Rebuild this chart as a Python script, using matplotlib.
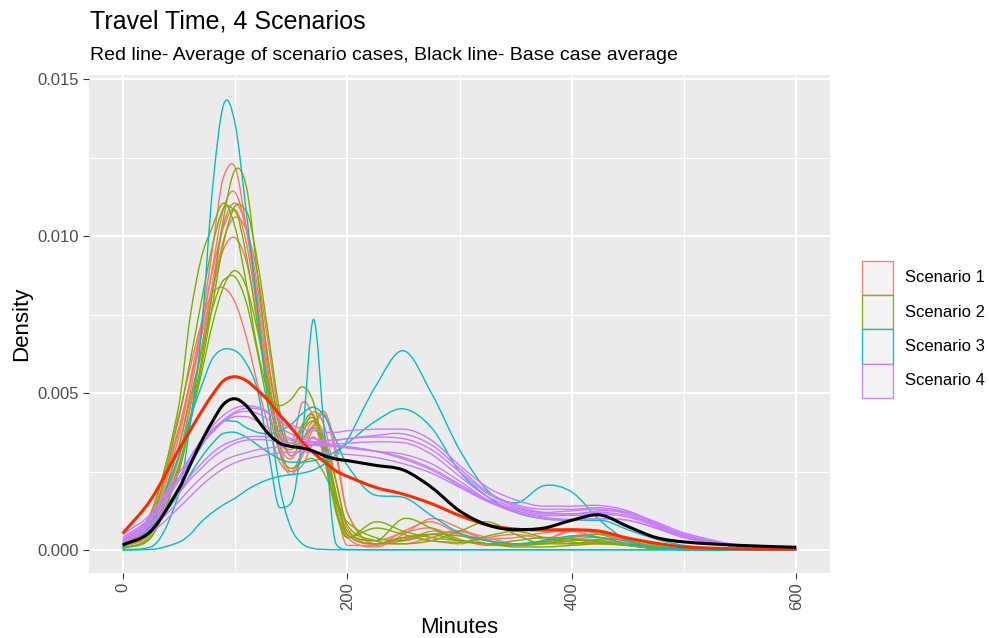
import matplotlib
matplotlib.use("Agg")
import matplotlib.pyplot as plt
from matplotlib.path import Path
from matplotlib.patches import PathPatch, Rectangle
import numpy as np

plt.rcParams['font.family'] = ['Liberation Sans', 'DejaVu Sans']

# Evaluation grid (minutes) shared by every density curve
minutes = [0, 25, 50, 60, 70, 80, 90, 100, 110, 120, 130, 140, 150, 160, 170, 180,
           190, 200, 225, 250, 275, 300, 325, 350, 375, 400, 425, 450, 475, 500, 550, 600]

# Densities are stored x 1000 (one list per run, values at `minutes`)
scenario_1 = [
    [0.1, 0.8, 3.6, 5.3, 7.2, 9.6, 11.9, 12.2, 10.3, 7.8, 5.4, 3.6, 3.4, 4.7, 4.2, 2.8, 1.3, 0.5, 0.3, 0.55, 0.7, 0.35, 0.15, 0.15, 0.25, 0.35, 0.3, 0.15, 0.05, 0.02, 0.0, 0.0],
    [0.1, 0.7, 3.3, 5.0, 6.9, 9.0, 10.9, 11.4, 10.2, 8.1, 5.6, 3.4, 2.9, 3.7, 4.4, 3.9, 2.2, 0.7, 0.2, 0.35, 0.5, 0.6, 0.4, 0.2, 0.25, 0.45, 0.5, 0.3, 0.1, 0.03, 0.0, 0.0],
    [0.1, 0.6, 3.0, 4.6, 6.4, 8.5, 10.4, 11.05, 10.3, 8.4, 6.0, 3.8, 3.0, 3.5, 4.1, 3.6, 1.8, 0.4, 0.1, 0.5, 1.0, 0.7, 0.3, 0.15, 0.3, 0.6, 0.55, 0.3, 0.1, 0.03, 0.0, 0.0],
    [0.15, 0.9, 3.8, 5.4, 7.1, 8.9, 10.3, 10.85, 9.8, 7.6, 5.1, 3.1, 2.4, 3.0, 3.9, 4.3, 3.0, 1.2, 0.2, 0.3, 0.6, 0.5, 0.35, 0.4, 0.55, 0.6, 0.4, 0.2, 0.08, 0.02, 0.0, 0.0],
    [0.2, 1.0, 3.9, 5.3, 6.8, 8.3, 9.6, 9.95, 9.2, 7.4, 5.2, 3.3, 2.5, 2.7, 3.4, 3.3, 1.4, 0.15, 0.15, 0.6, 0.9, 0.5, 0.2, 0.15, 0.3, 0.65, 0.5, 0.25, 0.08, 0.02, 0.0, 0.0],
    [0.2, 1.2, 4.3, 5.8, 7.2, 8.2, 8.35, 7.9, 6.8, 5.3, 3.9, 2.8, 2.5, 3.1, 3.6, 3.0, 1.6, 0.5, 0.2, 0.4, 0.3, 0.2, 0.4, 0.5, 0.35, 0.2, 0.25, 0.2, 0.08, 0.02, 0.0, 0.0],
    [0.1, 0.6, 2.9, 4.5, 6.3, 8.2, 9.9, 10.6, 10.2, 8.8, 6.5, 4.1, 3.0, 3.3, 4.0, 4.4, 3.2, 1.2, 0.2, 0.2, 0.4, 0.6, 0.3, 0.15, 0.2, 0.35, 0.4, 0.3, 0.12, 0.04, 0.0, 0.0],
]

scenario_2 = [
    [0.05, 0.4, 2.6, 4.2, 6.0, 8.2, 10.6, 12.1, 11.6, 8.8, 5.9, 4.0, 3.3, 3.5, 3.9, 3.2, 1.6, 0.5, 0.2, 0.4, 0.5, 0.3, 0.2, 0.3, 0.4, 0.35, 0.25, 0.15, 0.05, 0.02, 0.0, 0.0],
    [0.1, 1.1, 4.6, 7.4, 9.3, 10.3, 11.05, 10.3, 8.5, 6.4, 5.0, 4.6, 4.8, 5.2, 4.7, 3.0, 1.2, 0.4, 0.9, 0.6, 0.4, 0.3, 0.2, 0.1, 0.1, 0.15, 0.2, 0.15, 0.05, 0.02, 0.0, 0.0],
    [0.1, 0.9, 4.2, 6.0, 7.9, 9.7, 10.9, 10.8, 9.4, 7.2, 4.9, 3.4, 3.2, 3.9, 4.2, 3.3, 1.8, 0.6, 0.3, 1.0, 0.7, 0.3, 0.2, 0.15, 0.2, 0.3, 0.3, 0.15, 0.05, 0.02, 0.0, 0.0],
    [0.05, 0.4, 2.5, 4.0, 5.8, 7.8, 9.8, 10.95, 10.8, 9.2, 6.8, 4.4, 3.3, 3.8, 4.1, 3.5, 2.2, 0.8, 0.3, 0.2, 0.3, 0.6, 0.9, 0.5, 0.2, 0.2, 0.35, 0.3, 0.1, 0.03, 0.0, 0.0],
    [0.05, 0.5, 2.7, 4.1, 5.6, 7.2, 8.4, 8.9, 8.4, 7.0, 5.2, 3.6, 3.3, 4.0, 4.3, 3.0, 1.3, 0.4, 0.7, 0.5, 0.3, 0.25, 0.45, 0.6, 0.4, 0.25, 0.2, 0.15, 0.05, 0.02, 0.0, 0.0],
    [0.1, 0.7, 3.3, 4.8, 6.3, 7.7, 8.6, 8.7, 7.9, 6.3, 4.5, 3.1, 2.6, 2.8, 2.9, 2.4, 1.6, 0.9, 0.4, 0.3, 0.5, 0.45, 0.3, 0.2, 0.25, 0.4, 0.5, 0.4, 0.15, 0.04, 0.0, 0.0],
]

scenario_3 = [
    [0.0, 0.1, 1.8, 4.0, 6.9, 11.5, 14.2, 13.6, 10.8, 7.7, 4.5, 2.0, 0.7, 0.2, 0.05, 0.02, 0.01, 0.01, 0.01, 0.01, 0.01, 0.01, 0.01, 0.01, 0.01, 0.01, 0.01, 0.01, 0.01, 0.01, 0.01, 0.01],
    [0.1, 0.8, 3.0, 4.2, 5.2, 6.1, 6.4, 6.35, 5.95, 5.1, 3.1, 1.35, 1.5, 3.6, 7.35, 3.6, 0.2, 0.02, 0.01, 0.01, 0.01, 0.01, 0.01, 0.01, 0.01, 0.01, 0.01, 0.01, 0.01, 0.01, 0.01, 0.01],
    [0.0, 0.02, 0.25, 0.5, 0.9, 1.2, 1.45, 1.65, 1.9, 2.1, 2.25, 2.35, 2.4, 2.45, 2.55, 2.75, 3.05, 3.5, 5.2, 6.35, 5.0, 3.2, 1.9, 1.5, 2.05, 1.85, 0.95, 0.3, 0.08, 0.02, 0.0, 0.0],
    [0.1, 0.6, 1.8, 2.4, 2.95, 3.4, 3.72, 3.75, 3.6, 3.35, 3.1, 2.9, 2.8, 2.8, 2.85, 2.95, 3.15, 3.4, 4.1, 4.5, 3.9, 2.5, 1.7, 1.2, 1.0, 0.95, 0.95, 0.65, 0.35, 0.15, 0.03, 0.01],
    [0.1, 0.7, 2.0, 2.7, 3.3, 3.8, 4.1, 4.1, 3.9, 3.75, 3.7, 3.8, 4.0, 4.35, 4.55, 4.25, 3.5, 2.7, 1.75, 1.68, 1.1, 0.55, 0.3, 0.2, 0.3, 0.45, 0.4, 0.2, 0.08, 0.03, 0.01, 0.0],
]

scenario_4 = [
    [0.35, 1.0, 2.3, 2.95, 3.5, 3.95, 4.3, 4.52, 4.6, 4.55, 4.4, 4.2, 4.0, 3.85, 3.8, 3.75, 3.75, 3.8, 3.85, 3.85, 3.5, 2.7, 2.0, 1.6, 1.4, 1.4, 1.42, 1.25, 0.85, 0.5, 0.1, 0.02],
    [0.3, 0.95, 2.2, 2.8, 3.35, 3.8, 4.15, 4.4, 4.52, 4.5, 4.35, 4.1, 3.85, 3.65, 3.55, 3.5, 3.5, 3.55, 3.65, 3.7, 3.35, 2.6, 1.85, 1.45, 1.3, 1.3, 1.35, 1.2, 0.85, 0.5, 0.12, 0.02],
    [0.4, 1.05, 2.3, 2.85, 3.35, 3.75, 4.1, 4.35, 4.42, 4.35, 4.15, 3.9, 3.7, 3.55, 3.45, 3.4, 3.38, 3.4, 3.45, 3.42, 3.05, 2.35, 1.7, 1.35, 1.2, 1.25, 1.3, 1.15, 0.8, 0.45, 0.1, 0.02],
    [0.5, 1.15, 2.45, 2.95, 3.45, 3.85, 4.1, 4.25, 4.25, 4.1, 3.9, 3.7, 3.55, 3.45, 3.4, 3.35, 3.3, 3.25, 3.15, 3.05, 2.75, 2.2, 1.6, 1.25, 1.1, 1.1, 1.15, 1.05, 0.75, 0.4, 0.1, 0.02],
    [0.3, 0.85, 1.9, 2.35, 2.75, 3.1, 3.35, 3.5, 3.6, 3.62, 3.6, 3.55, 3.5, 3.45, 3.45, 3.48, 3.5, 3.55, 3.6, 3.55, 3.2, 2.5, 1.8, 1.4, 1.2, 1.15, 1.2, 1.1, 0.8, 0.45, 0.1, 0.02],
    [0.25, 0.8, 1.8, 2.25, 2.6, 2.95, 3.2, 3.4, 3.5, 3.52, 3.5, 3.45, 3.4, 3.38, 3.36, 3.35, 3.33, 3.3, 3.15, 2.9, 2.55, 2.05, 1.55, 1.2, 1.0, 0.95, 1.0, 0.95, 0.7, 0.4, 0.1, 0.02],
    [0.25, 0.7, 1.55, 1.95, 2.3, 2.6, 2.85, 3.0, 3.1, 3.2, 3.25, 3.3, 3.32, 3.33, 3.33, 3.32, 3.3, 3.28, 3.15, 2.95, 2.6, 2.1, 1.6, 1.3, 1.15, 1.15, 1.25, 1.2, 0.9, 0.55, 0.15, 0.03],
    [0.2, 0.55, 1.35, 1.7, 2.05, 2.35, 2.6, 2.78, 2.9, 2.98, 3.05, 3.1, 3.12, 3.12, 3.12, 3.1, 3.08, 3.05, 2.95, 2.75, 2.45, 2.0, 1.55, 1.25, 1.05, 0.98, 1.0, 0.95, 0.7, 0.4, 0.1, 0.02],
]

# Average of all scenario runs (red) and base-case average (black)
scenario_average = [0.53, 1.6, 3.2, 3.8, 4.4, 4.95, 5.4, 5.52, 5.4, 5.1, 4.75, 4.3, 3.9, 3.45, 3.1, 2.8, 2.52, 2.35,
                    2.0, 1.78, 1.48, 1.1, 0.8, 0.67, 0.64, 0.65, 0.6, 0.38, 0.22, 0.1, 0.04, 0.03]
base_average = [0.16, 0.6, 1.95, 2.7, 3.45, 4.1, 4.65, 4.82, 4.6, 4.15, 3.7, 3.4, 3.3, 3.25, 3.15, 3.0, 2.9, 2.85,
                2.7, 2.55, 2.0, 1.25, 0.8, 0.65, 0.7, 0.95, 1.12, 0.75, 0.4, 0.26, 0.15, 0.09]

scenario_names = ["Scenario 1", "Scenario 2", "Scenario 3", "Scenario 4"]
scenario_colors = ["#F8766D", "#7CAE00", "#00BFC4", "#C77CFF"]
DENSITY_SCALE = 1e-3


def smooth_path(xs, ys):
    """Piecewise cubic (Hermite -> Bezier) path through the given points."""
    xs = np.asarray(xs, float)
    ys = np.asarray(ys, float)
    n = len(xs)
    d = np.diff(ys) / np.diff(xs)
    m = np.empty(n)
    m[0], m[-1] = d[0], d[-1]
    for i in range(1, n - 1):
        dl, dr = d[i - 1], d[i]
        central = (ys[i + 1] - ys[i - 1]) / (xs[i + 1] - xs[i - 1])
        if dl * dr > 0:
            lim = 3 * min(abs(dl), abs(dr))
            m[i] = np.sign(central) * min(abs(central), lim)
        elif dl > 0 and dr <= 0:
            m[i] = central      # local maximum: keep rounded crest
        else:
            m[i] = 0.0          # local minimum / flat: no undershoot
    verts = [(xs[0], ys[0])]
    codes = [Path.MOVETO]
    for i in range(n - 1):
        h = xs[i + 1] - xs[i]
        verts += [(xs[i] + h / 3, ys[i] + m[i] * h / 3),
                  (xs[i + 1] - h / 3, ys[i + 1] - m[i + 1] * h / 3),
                  (xs[i + 1], ys[i + 1])]
        codes += [Path.CURVE4] * 3
    return Path(verts, codes)


def draw_curve(ax, values, color, lw, z):
    ys = np.asarray(values, float) * DENSITY_SCALE
    patch = PathPatch(smooth_path(minutes, ys), facecolor='none', edgecolor=color,
                      lw=lw, zorder=z, capstyle='butt', joinstyle='round')
    ax.add_patch(patch)


fig = plt.figure(figsize=(9.89, 6.38), dpi=100)
W, H = 989, 638
ax = fig.add_axes([89 / W, 1 - 572.7 / H, (830 - 89) / W, (572.7 - 75) / H])
ax.set_facecolor('#EBEBEB')

for runs, color in zip([scenario_1, scenario_2, scenario_3, scenario_4], scenario_colors):
    for run in runs:
        draw_curve(ax, run, color, 1.0, 3)
draw_curve(ax, scenario_average, '#FF2A00', 2.2, 5)
draw_curve(ax, base_average, 'black', 2.2, 6)

ax.set_xlim(-30, 630)
ax.set_ylim(-0.00072, 0.01513)
ax.set_xticks([0, 200, 400, 600])
ax.set_xticks([100, 300, 500], minor=True)
ax.set_yticks([0, 0.005, 0.010, 0.015])
ax.set_yticks([0.0025, 0.0075, 0.0125], minor=True)
ax.set_xticklabels(['0', '200', '400', '600'], rotation=90)
ax.set_yticklabels(['0.000', '0.005', '0.010', '0.015'])
ax.grid(which='major', color='white', lw=1.5, zorder=1)
ax.grid(which='minor', color='white', lw=0.75, zorder=1)
ax.set_axisbelow(True)
for s in ax.spines.values():
    s.set_visible(False)
ax.tick_params(which='major', length=4, width=0.8, color='#333333',
               labelsize=12, labelcolor='#4D4D4D', pad=3)
ax.tick_params(which='minor', length=0)

fig.text((89 + 830) / 2 / W, 1 - 633 / H, 'Minutes', ha='center', va='baseline', fontsize=16)
fig.text(22 / W, 1 - 323.5 / H, 'Density', ha='center', va='center', rotation=90, fontsize=16)
fig.text(90 / W, 1 - 28 / H, 'Travel Time, 4 Scenarios', ha='left', va='baseline', fontsize=18)
fig.text(90 / W, 1 - 60 / H,
         'Red line- Average of scenario cases, Black line- Base case average',
         ha='left', va='baseline', fontsize=14)

# Legend keys
key_left, key_w, key_top, key_h = 861.7, 31.6, 260.7, 34.3
for i, (name, color) in enumerate(zip(scenario_names, scenario_colors)):
    top = key_top + i * key_h
    fig.patches.append(Rectangle((key_left / W, 1 - (top + key_h) / H), key_w / W, key_h / H,
                                 transform=fig.transFigure, facecolor='#F2F2F2',
                                 edgecolor=color, lw=1.0, alpha=0.9))
    fig.text(905 / W, 1 - (top + key_h / 2) / H, name, ha='left', va='center',
             fontsize=12, color='black')

fig.savefig('out.png', dpi=100)
